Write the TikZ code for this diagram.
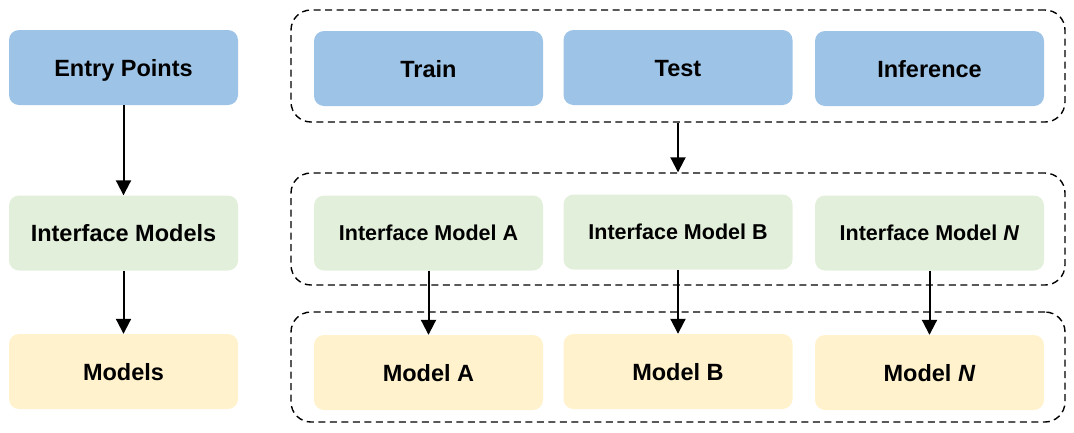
\documentclass[tikz,border=0pt]{standalone}
\usepackage{fontspec}
\setmainfont{Liberation Sans}
\usetikzlibrary{arrows.meta, positioning, calc}

\definecolor{entryblue}{HTML}{9DC3E6}
\definecolor{ifacegreen}{HTML}{E2EFDA}
\definecolor{modelyellow}{HTML}{FFF2CC}

\tikzset{
  block/.style={rounded corners=10pt, minimum width=229pt, minimum height=75pt,
    inner sep=0pt, text height=17pt, text depth=0pt,
    font=\fontsize{23.5}{27}\selectfont\bfseries},
  entry/.style={block, fill=entryblue},
  iface/.style={block, fill=ifacegreen},
  model/.style={block, fill=modelyellow},
  group/.style={draw, dashed, dash pattern=on 7pt off 4.5pt, line width=1.4pt,
    rounded corners=20pt, inner sep=0pt},
  flow/.style={-{Triangle[width=15pt,length=15pt]}, line width=2pt},
  small/.style={text height=15.5pt, font=\fontsize{21.5}{25}\selectfont\bfseries}
}

\begin{document}
\begin{tikzpicture}[x=1pt, y=-1pt]
            \useasboundingbox (0,0) rectangle (1074,432);

            % Left column
            \node[entry] (entry) at (123.5, 67.5) {Entry Points};
            \node[iface] (iface) at (123.5, 233) {Interface Models};
            \node[model] (model) at (123.5, 371.5) {Models};

            % Groups
            \node[group, minimum width=774pt, minimum height=112pt] (gTop) at (678, 66) {};
            \node[group, minimum width=774pt, minimum height=112pt] (gMid) at (678, 229) {};
            \node[group, minimum width=774pt, minimum height=110pt] (gBot) at (678, 367) {};

            % Entry points
            \node[entry] (train) at (428.5, 68.5) {Train};
            \node[entry] (test) at (678, 67.5) {Test};
            \node[entry] (infer) at (929.5, 68.5) {Inference};

            % Interface models
            \node[iface, small] (ifA) at (428.5, 233) {Interface Model A};
            \node[iface, small] (ifB) at (678, 232) {Interface Model B};
            \node[iface, small] (ifN) at (929.5, 233) {Interface Model \textit{N}};

            % Models
            \node[model] (mA) at (428.5, 372.5) {Model A};
            \node[model] (mB) at (678, 371.5) {Model B};
            \node[model] (mN) at (929.5, 372.5) {Model \textit{N}};

            % Arrows
            \draw[flow] (entry) -- (iface);
            \draw[flow] (iface) -- (model);
            \draw[flow] (gTop.south -| test) -- (gMid.north -| test);
            \draw[flow] (ifA) -- (mA);
            \draw[flow] (ifB) -- (mB);
            \draw[flow] (ifN) -- (mN);
        \end{tikzpicture}
\end{document}
